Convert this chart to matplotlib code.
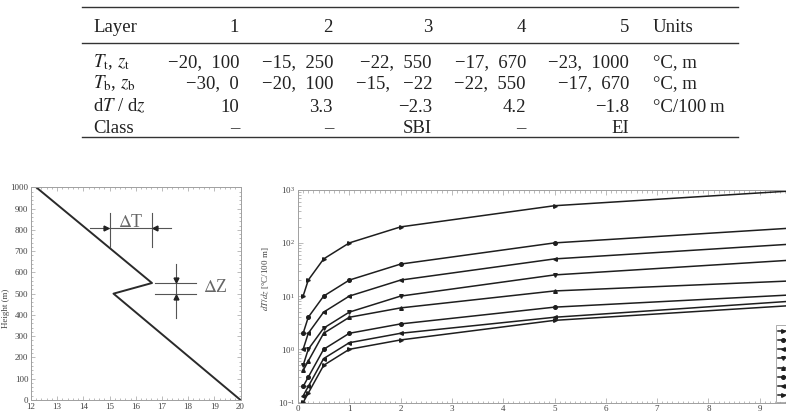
import numpy as np
import matplotlib
matplotlib.use("Agg")
import matplotlib.pyplot as plt
from matplotlib.lines import Line2D
from matplotlib.ticker import MultipleLocator, LogLocator, NullFormatter

plt.rcParams['font.family'] = ['Liberation Serif', 'DejaVu Serif']
plt.rcParams['mathtext.fontset'] = 'stix'

# table
layers = ['1', '2', '3', '4', '5']
row_names = [r'$T_\mathrm{t}$, $z_\mathrm{t}$', r'$T_\mathrm{b}$, $z_\mathrm{b}$',
             r'd$T$ / d$z$', 'Class']
top_vals = ['−20,\u2002100', '−15,\u2002250', '−22,\u2002550', '−17,\u2002670', '−23,\u20021000']
bot_vals = ['−30,\u20020', '−20,\u2002100', '−15,\u2002\u2009−22', '−22,\u2002550', '−17,\u2002670']
grad_vals = ['10', '3.3', '−2.3', '4.2', '−1.8']
class_vals = ['–', '–', 'SBI', '–', 'EI']
units = ['°C, m', '°C, m', '°C/100\u2009m', '']

# left panel: temperature profile
prof_T = [20, 15.15, 16.62, 12.2]
prof_z = [0, 500, 550, 1000]

# right panel: gradient vs temperature difference
dT = [0.1, 0.2, 0.5, 1, 2, 5, 10]
grad = [
    [10, 20, 50, 100, 200, 500, 1000],
    [2, 4, 10, 20, 40, 100, 200],
    [1, 2, 5, 10, 20, 50, 100],
    [0.5, 1, 2.5, 5, 10, 25, 50],
    [0.4, 0.6, 2, 4, 6, 12.5, 20],
    [0.2, 0.3, 1, 2, 3, 6.2, 11],
    [0.133, 0.2, 0.67, 1.33, 2, 4, 8.5],
    [0.1, 0.15, 0.5, 1, 1.5, 3.5, 7],
]
dz_labels = [r'$\Delta Z$ = 1 m', r'$\Delta Z$ = 5 m', r'$\Delta Z$ = 10 m',
             r'$\Delta Z$ = 20 m', r'$\Delta Z$ = 25 m', r'$\Delta Z$ = 50 m',
             r'$\Delta Z$ = 75 m', r'$\Delta Z$ = 100 m']
markers = ['>', 'o', '<', 'v', '^', 'o', '<', '>']

W, H = 786, 415
fig = plt.figure(figsize=(W / 100, H / 100), dpi=100)


def fx(x):
    return x / W


def fy(y):
    return 1 - y / H


# ---- table ----
for y in (7.5, 42.7, 137):
    fig.add_artist(Line2D([fx(82), fx(738)], [fy(y), fy(y)], color='#333333', lw=1.0))

col_x = [239, 333, 432, 526, 629]
row_y = [66.7, 88.3, 111.7, 132.7]
fs = 13.5
ink = '#222222'
fig.text(fx(93), fy(31.7), 'Layer', fontsize=fs, va='baseline', color=ink)
for cx, lab in zip(col_x, layers):
    fig.text(fx(cx), fy(31.7), lab, fontsize=fs, ha='right', va='baseline', color=ink)
fig.text(fx(653), fy(31.7), 'Units', fontsize=fs, va='baseline', color=ink)
for ry, name, vals, u in zip(row_y, row_names, [top_vals, bot_vals, grad_vals, class_vals], units):
    fig.text(fx(93), fy(ry), name, fontsize=fs, va='baseline', color=ink)
    for cx, v in zip(col_x, vals):
        fig.text(fx(cx), fy(ry), v, fontsize=fs, ha='right', va='baseline', color=ink)
    fig.text(fx(653), fy(ry), u, fontsize=fs, va='baseline', color=ink)

frame_col = '#a0a0a0'
tick_col = '#444444'

# ---- left panel ----
ax1 = fig.add_axes([fx(31), fy(400), fx(240.5) - fx(31), fy(187.3) - fy(400)])
ax1.plot(prof_T, prof_z, color='#2a2a2a', lw=1.4)
# delta T marker
ax1.plot([14.25, 17.35], [810, 810], color='#555555', lw=0.8)
ax1.plot([15.03, 15.03], [720, 880], color='#555555', lw=0.8)
ax1.plot([16.62, 16.62], [720, 880], color='#555555', lw=0.8)
ax1.plot([14.88], [810], marker='>', ms=3.5, color='#222222')
ax1.plot([16.75], [810], marker='<', ms=3.5, color='#222222')
ax1.text(15.82, 835, r'$\Delta$T', fontsize=13, ha='center', va='center', color='#666666')
# delta Z marker
ax1.plot([17.52, 17.52], [385, 640], color='#555555', lw=0.8)
ax1.plot([16.75, 18.3], [550, 550], color='#555555', lw=0.8)
ax1.plot([16.75, 18.3], [500, 500], color='#555555', lw=0.8)
ax1.plot([17.52], [565], marker='v', ms=3.5, color='#222222')
ax1.plot([17.52], [485], marker='^', ms=3.5, color='#222222')
ax1.text(18.55, 527, r'$\Delta$Z', fontsize=13, ha='left', va='center', color='#666666')
ax1.set_xlim(12, 20)
ax1.set_ylim(0, 1000)
ax1.xaxis.set_major_locator(MultipleLocator(1))
ax1.xaxis.set_minor_locator(MultipleLocator(0.2))
ax1.yaxis.set_major_locator(MultipleLocator(100))
ax1.yaxis.set_minor_locator(MultipleLocator(20))
ax1.tick_params(which='both', direction='in', top=True, right=True, colors=frame_col,
                labelcolor=tick_col, labelsize=6.5, pad=2)
ax1.tick_params(which='major', length=3, width=0.5)
ax1.tick_params(which='minor', length=1.5, width=0.5)
for s in ax1.spines.values():
    s.set_color(frame_col)
    s.set_linewidth(0.7)
ax1.set_ylabel('Height (m)', fontsize=6.5, color=tick_col)
ax1.yaxis.set_label_coords(-0.1, 0.43)

# ---- right panel ----
ax2 = fig.add_axes([fx(298), fy(402.5), fx(811) - fx(298), fy(189.7) - fy(402.5)])
for vals, m, lab in zip(grad, markers, dz_labels):
    ax2.plot(dT, vals, color='#1e1e1e', lw=1.1, marker=m, ms=2.6, label=lab)
ax2.set_yscale('log')
ax2.set_xlim(0, 10)
ax2.set_ylim(0.1, 1000)
ax2.set_xticks(range(10))
ax2.xaxis.set_minor_locator(MultipleLocator(0.1))
ax2.yaxis.set_major_locator(LogLocator(base=10))
ax2.yaxis.set_minor_locator(LogLocator(base=10, subs=np.arange(2, 10)))
ax2.yaxis.set_minor_formatter(NullFormatter())
ax2.tick_params(which='both', direction='in', top=True, right=True, colors=frame_col,
                labelcolor=tick_col, labelsize=6.5, pad=2)
ax2.tick_params(which='major', length=3.5, width=0.5)
ax2.tick_params(which='minor', length=1.8, width=0.5)
for s in ax2.spines.values():
    s.set_color(frame_col)
    s.set_linewidth(0.7)
ax2.set_ylabel(r'$dT/dz$ [°C/100 m]', fontsize=6.5, color=tick_col)
ax2.yaxis.set_label_coords(-0.052, 0.58)

leg = ax2.legend(loc='upper left', bbox_to_anchor=(fx(776), fy(325)),
                 bbox_transform=fig.transFigure, fontsize=5, frameon=True,
                 fancybox=False, edgecolor='#888888', borderaxespad=0,
                 borderpad=0.3, labelspacing=0.18, handlelength=1.3,
                 handletextpad=0.4)
leg.get_frame().set_linewidth(0.6)

fig.savefig('out.png', dpi=100)
